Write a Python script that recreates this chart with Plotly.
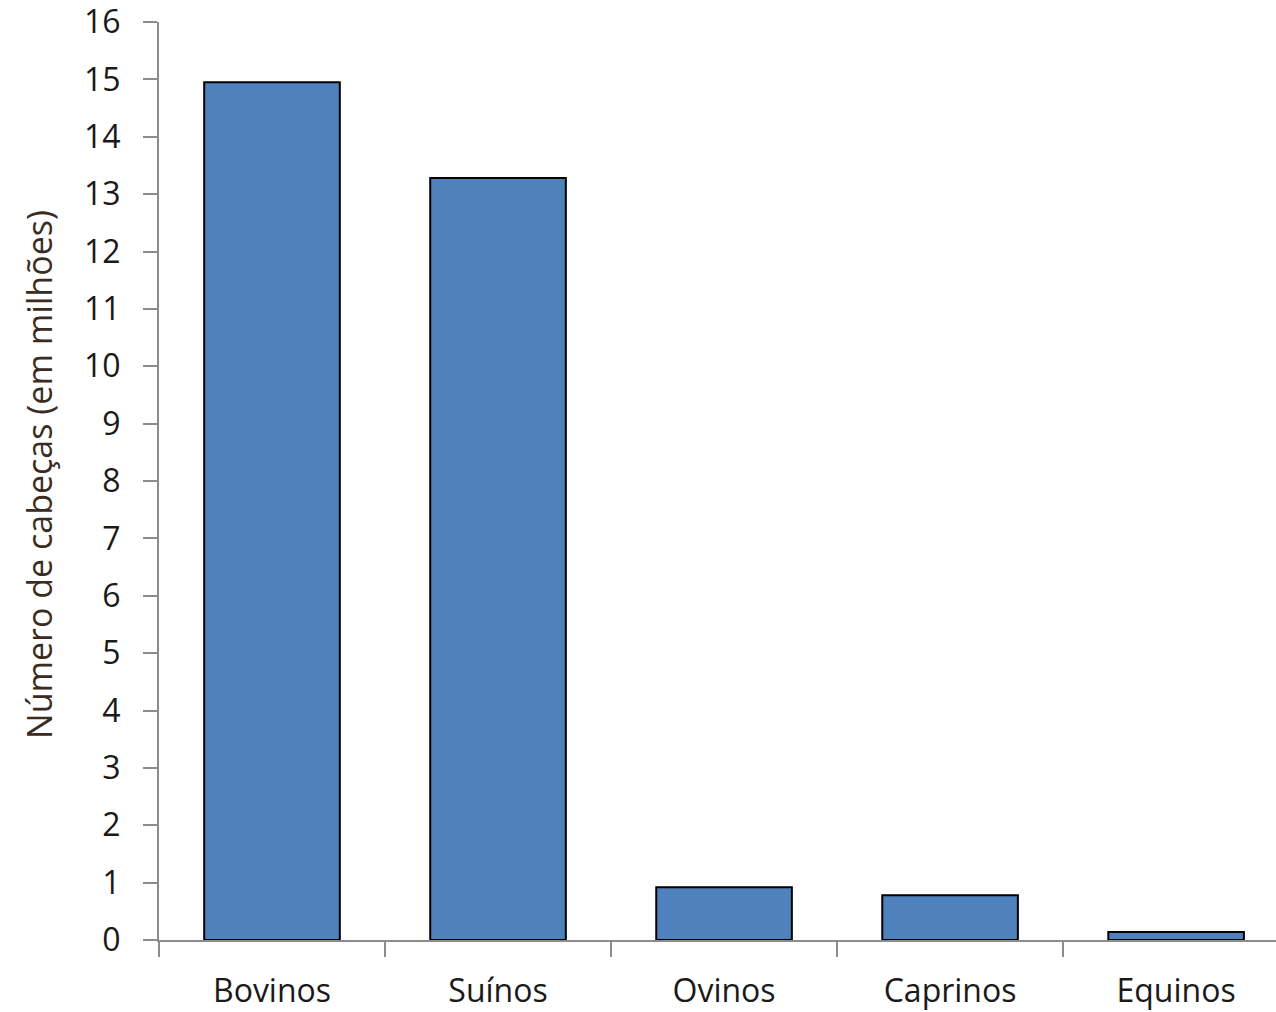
import plotly.graph_objects as go

# Rebanho por espécie (milhões de cabeças)
categorias = ["Bovinos", "Suínos", "Ovinos", "Caprinos", "Equinos"]
cabecas = [14.95, 13.28, 0.92, 0.78, 0.14]
y_ticks = list(range(0, 17))
y_title = "Número de cabeças (em milhões)"

axis_gray = "#8c8c8c"
text_color = "#1a1a1a"
font_family = "Open Sans, Noto Sans, DejaVu Sans, sans-serif"

fig = go.Figure(
    go.Bar(
        x=categorias,
        y=cabecas,
        width=0.6,
        marker=dict(color="#4F81BD", line=dict(color="#000000", width=2)),
    )
)

fig.update_layout(
    width=1276,
    height=1012,
    margin=dict(l=159, r=0, t=22, b=72),
    paper_bgcolor="white",
    plot_bgcolor="white",
    showlegend=False,
    font=dict(family=font_family, size=32, color=text_color),
)

fig.update_xaxes(
    type="category",
    range=[-0.5, 4.442],
    showgrid=False,
    showline=True,
    linecolor=axis_gray,
    linewidth=2,
    ticks="outside",
    tickson="boundaries",
    ticklen=15,
    tickwidth=2,
    tickcolor=axis_gray,
    ticklabelstandoff=22,
    tickfont=dict(size=32, color=text_color),
    zeroline=False,
)

fig.update_yaxes(
    range=[0, 16],
    tickvals=y_ticks,
    showgrid=False,
    showline=True,
    linecolor=axis_gray,
    linewidth=2,
    ticks="outside",
    ticklen=14,
    tickwidth=2,
    tickcolor=axis_gray,
    ticklabelstandoff=16,
    ticklabeloverflow="allow",
    tickfont=dict(size=32, color=text_color),
    zeroline=False,
)

# Rotated y-axis title placed beside the tick labels
fig.add_annotation(
    text=y_title,
    xref="paper",
    yref="paper",
    x=-0.108,
    y=0.507,
    xanchor="center",
    yanchor="middle",
    textangle=-90,
    showarrow=False,
    font=dict(size=34, color="#3a2c22"),
)

fig.write_html("out.html")
